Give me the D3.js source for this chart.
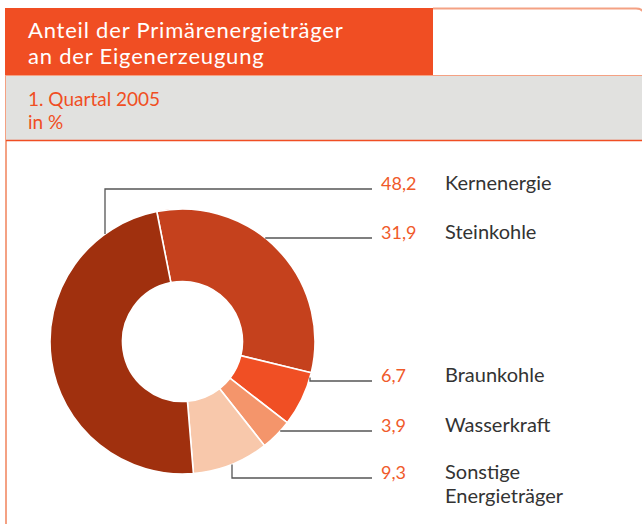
<!DOCTYPE html>
<html>
<head>
<meta charset="utf-8">
<script src="https://cdn.jsdelivr.net/npm/d3@7"></script>
<style>
  body { margin: 0; background: #fff; }
  svg { display: block; font-family: Lato, "Open Sans", sans-serif; }
</style>
</head>
<body>
<div id="chart"></div>
<script>
// Chart data
const categories = ["Steinkohle", "Braunkohle", "Wasserkraft", "Sonstige Energieträger", "Kernenergie"];
const shares = [31.9, 6.7, 3.9, 9.3, 48.2];
const valueLabels = ["31,9", "6,7", "3,9", "9,3", "48,2"];
const sliceColors = ["#c5411d", "#f04f24", "#f4956b", "#f8c8ab", "#a0300e"];

const titleLines = ["Anteil der Primärenergieträger", "an der Eigenerzeugung"];
const subtitleLines = ["1. Quartal 2005", "in %"];

// Legend rows, top to bottom, as they appear on the right side
const legendOrder = ["Kernenergie", "Steinkohle", "Braunkohle", "Wasserkraft", "Sonstige Energieträger"];

// Layout
const width = 642, height = 524;
const cx = 182.5, cy = 341.5;
const outerR = 132.5, innerR = 60;
const startDeg = -11.2;
const valueX = 381, labelX = 445;
const lineEndX = 372;

// leader line layout: baseline of each row, and x of a vertical elbow (if any)
const rows = {
  "Kernenergie": { y: 189, elbowX: 105 },
  "Steinkohle": { y: 238 },
  "Braunkohle": { y: 381, elbowX: 310 },
  "Wasserkraft": { y: 431 },
  "Sonstige Energieträger": { y: 478, elbowX: 232 }
};

const orange = "#f04e23";
const frameColor = "#f4a183";

const svg = d3.select("#chart")
  .append("svg")
  .attr("width", width)
  .attr("height", height);

// frame around the whole panel (left + top-right edges)
svg.append("path")
  .attr("d", `M6,75 V${height + 5} M433,8.5 H636 Q645,8.5 645,18`)
  .attr("fill", "none")
  .attr("stroke", frameColor)
  .attr("stroke-width", 2);

// title box
svg.append("rect")
  .attr("x", 5).attr("y", 8)
  .attr("width", 428).attr("height", 67)
  .attr("fill", orange);

svg.append("g")
  .selectAll("text")
  .data(titleLines)
  .join("text")
  .attr("x", 28)
  .attr("y", (d, i) => 37.5 + i * 26.5)
  .attr("fill", "#fff")
  .style("font-size", "22px")
  .style("letter-spacing", "0.8px")
  .text(d => d);

// subtitle band
svg.append("rect")
  .attr("x", 6).attr("y", 75)
  .attr("width", width).attr("height", 65)
  .attr("fill", "#e1e1df");

svg.append("line")
  .attr("x1", 6).attr("x2", width)
  .attr("y1", 75.5).attr("y2", 75.5)
  .attr("stroke", frameColor).attr("stroke-width", 1);

svg.append("line")
  .attr("x1", 6).attr("x2", width)
  .attr("y1", 140.5).attr("y2", 140.5)
  .attr("stroke", orange).attr("stroke-width", 1.5);

svg.append("g")
  .selectAll("text")
  .data(subtitleLines)
  .join("text")
  .attr("x", 28)
  .attr("y", (d, i) => 106 + i * 22.5)
  .attr("fill", orange)
  .style("font-size", "19px")
  .text(d => d);

// donut
const pie = d3.pie()
  .sort(null)
  .value(d => d.value)
  .startAngle(startDeg * Math.PI / 180)
  .endAngle(startDeg * Math.PI / 180 + 2 * Math.PI);

const slices = pie(categories.map((c, i) => ({ name: c, value: shares[i], label: valueLabels[i], color: sliceColors[i] })));

const arc = d3.arc()
  .innerRadius(innerR)
  .outerRadius(outerR);

const donut = svg.append("g")
  .attr("transform", `translate(${cx},${cy})`);

donut.selectAll("path")
  .data(slices)
  .join("path")
  .attr("d", arc)
  .attr("fill", d => d.data.color)
  .attr("stroke", "#fff")
  .attr("stroke-width", 1.6);

// leader lines: start on the outer rim, either straight across or with a vertical elbow
function leaderPath(name) {
  const r = rows[name];
  if (r.elbowX !== undefined) {
    const dx = r.elbowX - cx;
    const dy = Math.sqrt(outerR * outerR - dx * dx);
    const yRim = r.y < cy ? cy - dy : cy + dy;
    return `M${r.elbowX},${yRim} V${r.y} H${lineEndX}`;
  }
  const dy = r.y - cy;
  const xRim = cx + Math.sqrt(outerR * outerR - dy * dy);
  return `M${xRim},${r.y} H${lineEndX}`;
}

const byName = new Map(slices.map(s => [s.data.name, s.data]));

const legend = svg.append("g");

legend.selectAll("path")
  .data(legendOrder)
  .join("path")
  .attr("d", d => leaderPath(d))
  .attr("fill", "none")
  .attr("stroke", "#555")
  .attr("stroke-width", 1.3);

legend.selectAll("text.value")
  .data(legendOrder)
  .join("text")
  .attr("class", "value")
  .attr("x", valueX)
  .attr("y", d => rows[d].y + 1)
  .attr("fill", "#f05a2a")
  .style("font-size", "18px")
  .text(d => byName.get(d).label);

const labels = legend.selectAll("text.label")
  .data(legendOrder)
  .join("text")
  .attr("class", "label")
  .attr("x", labelX)
  .attr("y", d => rows[d].y + 1)
  .attr("fill", "#333")
  .style("font-size", "20px");

labels.selectAll("tspan")
  .data(d => d.split(" "))
  .join("tspan")
  .attr("x", labelX)
  .attr("dy", (d, i) => i === 0 ? 0 : 24)
  .text(d => d);
</script>
</body>
</html>
